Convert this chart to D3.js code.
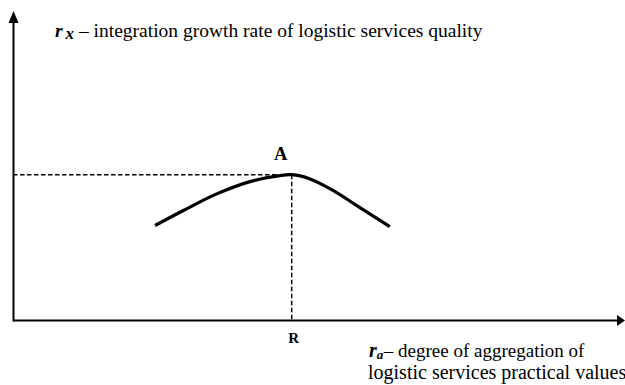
<!DOCTYPE html>
<html><head><meta charset="utf-8">
<script src="https://cdn.jsdelivr.net/npm/d3@7"></script>
<style>body{margin:0;background:#fff}svg{display:block}</style>
</head><body>
<svg id="c" width="625" height="385"></svg>
<script>
// curve data (abstract units)
const curveX = [23.67, 28.4, 33.95, 39.5, 43.95, 46.45, 49.5, 53.4, 57.3, 62.8];
const curveY = [31.67, 36.67, 42.2, 46.3, 48.1, 48.6, 47.2, 43.3, 38.3, 31.3];
const pointA = {label: "A", x: 46.45, y: 48.6};
const pointR = {label: "R"};
const yAxisLabel = ["r", "x", " – integration growth rate of logistic services quality"];
const xAxisLabel = ["r", "a", "– degree of aggregation of", "logistic services practical values"];

const svg = d3.select("#c");
const x = d3.scaleLinear().domain([0, 100]).range([13, 613]);
const y = d3.scaleLinear().domain([0, 100]).range([320.5, 20.5]);
const serif = '"Liberation Serif"';

// axes
svg.append("line").attr("x1", x(0)).attr("x2", 617).attr("y1", y(0)).attr("y2", y(0))
  .attr("stroke", "#000").attr("stroke-width", 2);
svg.append("path").attr("d", d3.line()([[617, y(0) - 5.5], [625, y(0)], [617, y(0) + 5.5]]) + "Z").attr("fill", "#000");
svg.append("line").attr("x1", x(0) + 0.5).attr("x2", x(0) + 0.5).attr("y1", y(0) + 1).attr("y2", 20)
  .attr("stroke", "#000").attr("stroke-width", 2);
svg.append("path").attr("d", d3.line()([[x(0) + 0.5 - 5, 23], [x(0) + 0.5, 11], [x(0) + 0.5 + 5, 23]]) + "Z").attr("fill", "#000");

// dashed guides
svg.append("line").attr("x1", x(0)).attr("x2", x(pointA.x)).attr("y1", y(pointA.y)).attr("y2", y(pointA.y))
  .attr("stroke", "#000").attr("stroke-width", 1.5).attr("stroke-dasharray", "4.5,2.5");
svg.append("line").attr("x1", x(pointA.x)).attr("x2", x(pointA.x)).attr("y1", y(pointA.y)).attr("y2", y(0))
  .attr("stroke", "#000").attr("stroke-width", 1.5).attr("stroke-dasharray", "4.5,2.5");

// curve
const pts = curveX.map((v, i) => [v, curveY[i]]);
svg.append("path").datum(pts)
  .attr("d", d3.line().x(d => x(d[0])).y(d => y(d[1])).curve(d3.curveCatmullRom))
  .attr("fill", "none").attr("stroke", "#000").attr("stroke-width", 3.2).attr("stroke-linecap", "butt");

// labels
svg.append("text").attr("x", x(pointA.x) - 11).attr("y", 160).attr("text-anchor", "middle")
  .style("font-family", serif).attr("font-weight", "bold").attr("font-size", 18.5).text(pointA.label);
svg.append("text").attr("x", x(pointA.x) + 2).attr("y", 343).attr("text-anchor", "middle")
  .style("font-family", serif).attr("font-weight", "bold").attr("font-size", 15).text(pointR.label);

const t1 = svg.append("text").attr("x", 55).attr("y", 37).style("font-family", serif).attr("font-size", 19.5);
t1.append("tspan").attr("font-weight", "bold").attr("font-style", "italic").text(yAxisLabel[0]);
t1.append("tspan").attr("font-weight", "bold").attr("font-style", "italic").attr("dx", 3).attr("dy", 2).attr("font-size", 17).text(yAxisLabel[1]);
t1.append("tspan").attr("dy", -2).text(yAxisLabel[2]);

const t2 = svg.append("text").attr("x", 369).attr("y", 357).style("font-family", serif).attr("font-size", 19);
t2.append("tspan").attr("font-weight", "bold").attr("font-style", "italic").attr("font-size", 20).text(xAxisLabel[0]);
t2.append("tspan").attr("font-weight", "bold").attr("font-style", "italic").attr("dy", 2).attr("font-size", 13).text(xAxisLabel[1]);
t2.append("tspan").attr("dy", -2).attr("dx", 0.5).text(xAxisLabel[2]);
svg.append("text").attr("x", 368).attr("y", 379).style("font-family", serif).attr("font-size", 20).text(xAxisLabel[3]);
</script>
</body></html>
